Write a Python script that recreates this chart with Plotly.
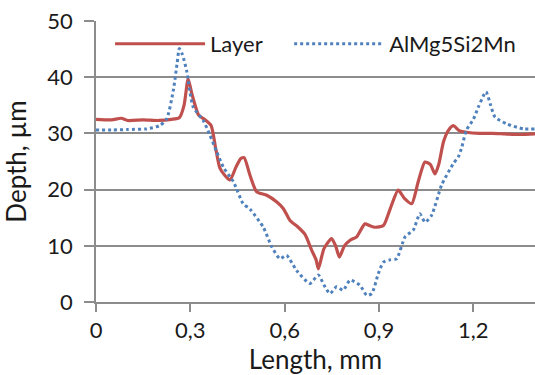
import plotly.graph_objects as go

layer_x = [0, 0.05, 0.08, 0.1, 0.15, 0.2, 0.24, 0.265, 0.28, 0.293, 0.305, 0.327, 0.345, 0.366, 0.38,
           0.394, 0.41, 0.426, 0.445, 0.46, 0.471, 0.49, 0.511, 0.543, 0.575, 0.596, 0.617, 0.643, 0.665,
           0.686, 0.7, 0.707, 0.725, 0.749, 0.762, 0.774, 0.79, 0.808, 0.829, 0.855, 0.87, 0.887, 0.914,
           0.935, 0.961, 0.98, 1.004, 1.025, 1.046, 1.063, 1.078, 1.09, 1.105, 1.12, 1.136, 1.155, 1.178,
           1.22, 1.26, 1.3, 1.35, 1.396]
layer_y = [32.5, 32.4, 32.7, 32.3, 32.4, 32.3, 32.5, 32.8, 35, 39.7, 37, 33.2, 32.5, 31.4, 27.5,
           23.8, 22.5, 21.7, 24, 25.5, 25.7, 22.5, 19.6, 19.0, 17.8, 16.6, 14.5, 13.3, 12.0,
           9.2, 7.5, 5.9, 9.5, 11.3, 10.0, 8.0, 10.0, 11.0, 11.6, 13.9, 13.6, 13.3, 13.6,
           16.5, 19.9, 18.5, 17.5, 21.5, 24.9, 24.5, 22.8, 24.5, 28.5, 30.5, 31.4, 30.5, 30.2,
           30.0, 30.0, 29.9, 29.8, 29.9]

alloy_x = [0, 0.05, 0.1, 0.161, 0.203, 0.225, 0.246, 0.258, 0.265, 0.275, 0.288, 0.309, 0.341, 0.36,
           0.384, 0.405, 0.437, 0.468, 0.49, 0.532, 0.559, 0.585, 0.606, 0.638, 0.68, 0.707, 0.725,
           0.744, 0.765, 0.786, 0.808, 0.839, 0.861, 0.877, 0.898, 0.914, 0.935, 0.956, 0.983, 1.009,
           1.030, 1.046, 1.067, 1.099, 1.136, 1.152, 1.163, 1.178, 1.2, 1.216, 1.240, 1.255, 1.269,
           1.306, 1.359, 1.396]
alloy_y = [30.6, 30.6, 30.7, 30.8, 31.4, 32.6, 37.7, 42.5, 45.1, 44, 41.2, 34.7, 32.3, 30.0,
           26.7, 24.0, 21.4, 17.5, 16.5, 13.3, 9.8, 7.7, 8.3, 5.6, 3.3, 4.8, 3.0,
           1.5, 2.7, 2.1, 3.9, 3.0, 1.2, 1.5, 5.1, 7.1, 7.5, 7.7, 11.6, 12.8,
           15.7, 14.2, 15.4, 20.8, 24.6, 25.8, 27.5, 30.6, 32.5, 34.7, 37.4, 35, 32.9,
           31.7, 30.8, 30.8]

x_ticks = [0, 0.3, 0.6, 0.9, 1.2]
x_tick_labels = ["0", "0,3", "0,6", "0,9", "1,2"]
y_ticks = [0, 10, 20, 30, 40, 50]

FONT = "Lato"

fig = go.Figure()
fig.add_trace(go.Scatter(x=layer_x, y=layer_y, mode="lines", name="Layer", legend="legend",
                         line=dict(color="#C0504D", width=3.2, shape="spline", smoothing=0.6)))
fig.add_trace(go.Scatter(x=alloy_x, y=alloy_y, mode="lines", name="AlMg5Si2Mn", legend="legend2",
                         line=dict(color="#4F81BD", width=3, dash="dot", shape="spline", smoothing=0.6)))

legend_common = dict(orientation="h", y=0.993, xanchor="left", yanchor="top",
                     bgcolor="rgba(255,255,255,0)", font=dict(size=22), itemwidth=90)

fig.update_layout(
    width=535, height=375,
    margin=dict(l=96, r=0, t=21, b=73, autoexpand=False),
    paper_bgcolor="white", plot_bgcolor="white",
    font=dict(family=FONT, size=22, color="#1a1a1a"),
    showlegend=True,
    legend=dict(x=0.032, **legend_common),
    legend2=dict(x=0.44, **legend_common),
    xaxis=dict(range=[0, 1.396], tickvals=x_ticks, ticktext=x_tick_labels, automargin=False,
               showgrid=False, showline=True, linecolor="#8c8c8c", linewidth=1.5,
               ticks="outside", ticklen=8, tickcolor="#8c8c8c", tickwidth=1.5,
               title=dict(text="Length, mm", standoff=8), zeroline=False),
    yaxis=dict(range=[0, 50], tickvals=y_ticks, showgrid=True, gridcolor="#8c8c8c", gridwidth=1.5,
               showline=True, linecolor="#8c8c8c", linewidth=1.5, automargin=False,
               ticks="outside", ticklen=10, tickcolor="#8c8c8c", tickwidth=1.5, ticklabelstandoff=7,
               title=dict(text="Depth, µm", standoff=14), zeroline=False),
)

fig.write_html("out.html", config={"displayModeBar": False},
               post_script="document.body.style.margin='0';document.body.style.overflow='hidden';")
